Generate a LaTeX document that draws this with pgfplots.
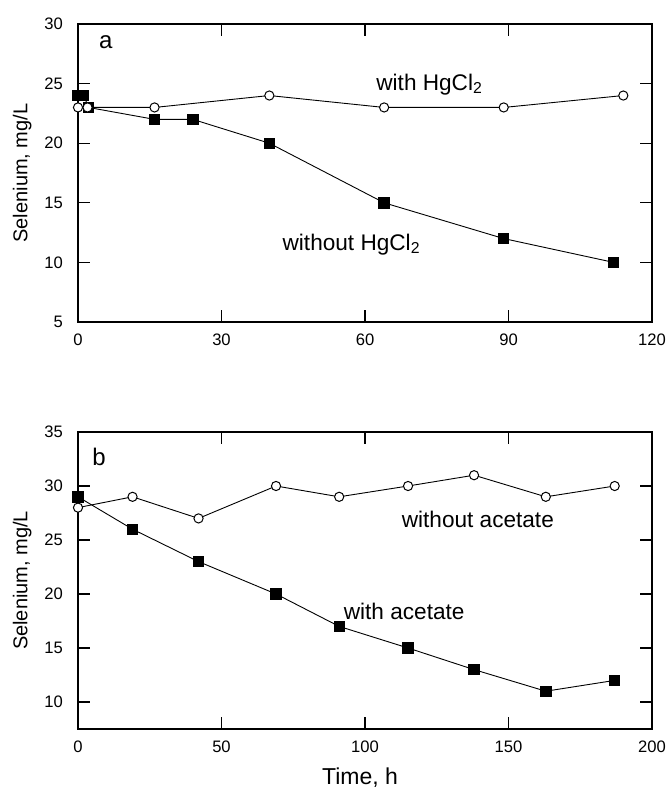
\documentclass[border=0pt]{standalone}
\usepackage{fontspec}
\setmainfont{Liberation Sans}
\usepackage{pgfplots}
\pgfplotsset{compat=1.18}
\tikzset{ann/.style={font=\fontsize{11.3}{13}\selectfont, anchor=base west, inner sep=0pt}}
\begin{document}
\begin{tikzpicture}
\useasboundingbox (0,0) rectangle (335.5pt,-394pt);
\pgfplotsset{
  myax/.style={
    scale only axis, width=287pt, clip=false,
    axis line style={line width=0.7pt},
    tick style={line width=0.6pt, black},
    major tick length=6pt,
    tick align=inside, xtick pos=both, ytick pos=both,
    tick label style={font=\fontsize{8.3}{9}\selectfont},
    xticklabel style={yshift=-2.5pt},
    yticklabel style={xshift=-4pt},
    /pgf/number format/assume math mode=true,
    label style={font=\fontsize{10}{12}\selectfont},
    ylabel style={at={(axis description cs:-0.097,0.5)}, anchor=center, rotate=0},
    ylabel={Selenium, mg/L},
  },
  sq/.style={black, line width=0.45pt, mark=square*, mark size=2.6pt, mark options={solid, fill=black}},
  ci/.style={black, line width=0.45pt, mark=*, mark size=2.3pt, mark options={solid, fill=white, line width=0.5pt}},
}
\begin{axis}[myax, at={(39pt,-161pt)}, anchor=south west, height=149pt,
  xmin=0, xmax=120, ymin=5, ymax=30,
  xtick={0,30,60,90,120}, ytick={5,10,15,20,25,30}]
\addplot[sq] coordinates {(0,24) (1.2,24) (2.2,23) (16,22) (24,22) (40,20) (64,15) (89,12) (112,10)};
\addplot[ci] coordinates {(0,23) (2,23) (16,23) (40,24) (64,23) (89,23) (114,24)};
\node[font=\fontsize{12}{13}\selectfont] at (axis cs:5.8,28.5) {a};
\node[ann] at (axis cs:62.3,24.45) {with HgCl\textsubscript{2}};
\node[ann] at (axis cs:42.7,11.0) {without HgCl\textsubscript{2}};
\end{axis}
\begin{axis}[myax, at={(39pt,-364.5pt)}, anchor=south west, height=148.5pt,
  xmin=0, xmax=200, ymin=7.5, ymax=35,
  xtick={0,50,100,150,200}, ytick={10,15,20,25,30,35},
  xlabel={Time, h},
  xlabel style={at={(axis description cs:0.5,0)}, anchor=base, yshift=-27.5pt, xshift=-2.5pt, font=\fontsize{11.5}{13}\selectfont}]
\addplot[sq] coordinates {(0,29) (19,26) (42,23) (69,20) (91,17) (115,15) (138,13) (163,11) (187,12)};
\addplot[ci] coordinates {(0,28) (19,29) (42,27) (69,30) (91,29) (115,30) (138,31) (163,29) (187,30)};
\node[font=\fontsize{12}{13}\selectfont] at (axis cs:7.3,32.7) {b};
\node[ann] at (axis cs:112.7,26.2) {without acetate};
\node[ann] at (axis cs:92.5,17.6) {with acetate};
\end{axis}
\end{tikzpicture}
\end{document}
